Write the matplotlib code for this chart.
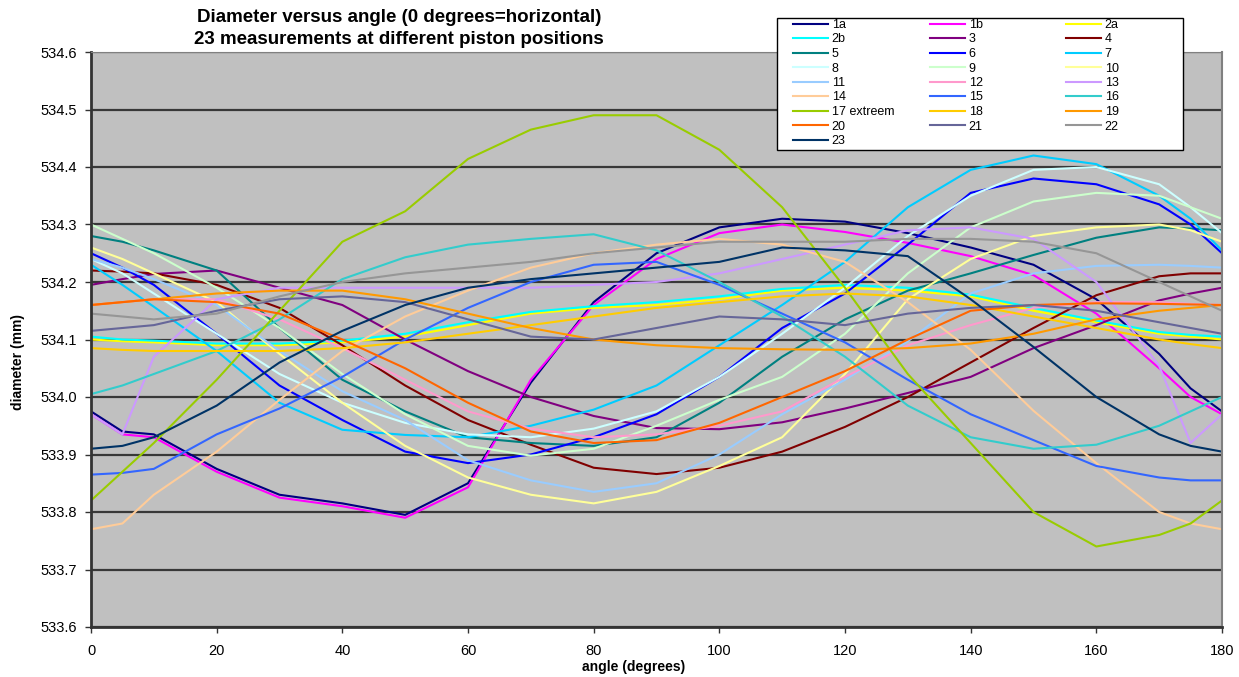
import matplotlib
matplotlib.use("Agg")
import matplotlib.pyplot as plt
from matplotlib.patches import Rectangle

plt.rcParams['font.family'] = ['Liberation Sans', 'DejaVu Sans']

# angle (degrees) where each measurement series is sampled
angles = [0, 5, 10, 20, 30, 40, 50, 60, 70, 80, 90, 100, 110, 120, 130, 140, 150, 160, 170, 175, 180]

labels = ["1a", "1b", "2a", "2b", "3", "4", "5", "6", "7", "8", "9", "10", "11", "12",
          "13", "14", "15", "16", "17 extreem", "18", "19", "20", "21", "22", "23"]

colors = ["#000080", "#FF00FF", "#FFFF00", "#00FFFF", "#800080", "#800000", "#008080",
          "#0000FF", "#00CCFF", "#CCFFFF", "#CCFFCC", "#FFFF99", "#99CCFF", "#FF99CC",
          "#CC99FF", "#FFCC99", "#3366FF", "#33CCCC", "#99CC00", "#FFCC00", "#FF9900",
          "#FF6600", "#666699", "#969696", "#003366"]

d_1a = [533.975, 533.94, 533.935, 533.875, 533.83, 533.815, 533.795, 533.85, 534.025, 534.165, 534.25,
        534.295, 534.31, 534.305, 534.285, 534.26, 534.23, 534.17, 534.075, 534.015, 533.975]
d_1b = [533.97, 533.935, 533.93, 533.87, 533.825, 533.81, 533.79, 533.843, 534.03, 534.16, 534.24,
        534.285, 534.30, 534.287, 534.268, 534.245, 534.212, 534.145, 534.05, 534.0, 533.97]
d_2a = [534.10, 534.097, 534.095, 534.09, 534.09, 534.095, 534.105, 534.125, 534.145, 534.155, 534.16,
        534.17, 534.185, 534.19, 534.185, 534.175, 534.15, 534.13, 534.11, 534.105, 534.10]
d_2b = [534.105, 534.10, 534.098, 534.093, 534.093, 534.098, 534.11, 534.13, 534.148, 534.158, 534.165,
        534.175, 534.188, 534.195, 534.19, 534.178, 534.155, 534.133, 534.113, 534.108, 534.105]
d_3 = [534.195, 534.205, 534.214, 534.22, 534.19, 534.16, 534.10, 534.045, 534.0, 533.967, 533.946,
       533.944, 533.956, 533.98, 534.007, 534.035, 534.085, 534.125, 534.168, 534.18, 534.19]
d_4 = [534.22, 534.218, 534.215, 534.195, 534.155, 534.09, 534.02, 533.96, 533.917, 533.877, 533.866,
       533.877, 533.905, 533.948, 534.0, 534.06, 534.12, 534.177, 534.21, 534.215, 534.215]
d_5 = [534.28, 534.27, 534.255, 534.22, 534.12, 534.03, 533.975, 533.93, 533.92, 533.915, 533.93,
       533.99, 534.07, 534.135, 534.185, 534.215, 534.247, 534.277, 534.295, 534.293, 534.29]
d_6 = [534.25, 534.225, 534.195, 534.11, 534.02, 533.96, 533.905, 533.885, 533.90, 533.93, 533.97,
       534.035, 534.12, 534.18, 534.265, 534.355, 534.38, 534.37, 534.335, 534.30, 534.25]
d_7 = [534.23, 534.195, 534.157, 534.08, 533.99, 533.943, 533.934, 533.93, 533.95, 533.978, 534.02,
       534.09, 534.16, 534.235, 534.33, 534.395, 534.42, 534.405, 534.35, 534.31, 534.255]
d_8 = [534.24, 534.215, 534.18, 534.11, 534.04, 533.99, 533.955, 533.935, 533.93, 533.945, 533.975,
       534.035, 534.11, 534.19, 534.28, 534.35, 534.395, 534.40, 534.37, 534.33, 534.285]
d_9 = [534.30, 534.275, 534.25, 534.19, 534.12, 534.04, 533.97, 533.915, 533.898, 533.91, 533.95,
       533.995, 534.035, 534.11, 534.215, 534.295, 534.34, 534.355, 534.35, 534.33, 534.31]
d_10 = [534.26, 534.24, 534.215, 534.165, 534.075, 533.99, 533.915, 533.86, 533.83, 533.815, 533.835,
        533.88, 533.93, 534.04, 534.17, 534.24, 534.28, 534.295, 534.30, 534.29, 534.27]
d_11 = [534.24, 534.225, 534.205, 534.16, 534.08, 534.01, 533.96, 533.89, 533.855, 533.835, 533.85,
        533.90, 533.97, 534.03, 534.097, 534.18, 534.215, 534.228, 534.23, 534.228, 534.225]
d_12 = [534.16, 534.165, 534.17, 534.17, 534.135, 534.085, 534.03, 533.975, 533.945, 533.93, 533.935,
        533.95, 533.975, 534.035, 534.09, 534.125, 534.155, 534.165, 534.165, 534.162, 534.16]
d_13 = [533.97, 533.935, 534.07, 534.17, 534.19, 534.19, 534.19, 534.19, 534.19, 534.195, 534.20,
        534.215, 534.24, 534.265, 534.29, 534.295, 534.275, 534.20, 534.054, 533.92, 533.97]
d_14 = [533.77, 533.78, 533.83, 533.905, 533.995, 534.08, 534.14, 534.185, 534.225, 534.25, 534.265,
        534.275, 534.265, 534.235, 534.165, 534.082, 533.976, 533.885, 533.80, 533.78, 533.77]
d_15 = [533.865, 533.868, 533.875, 533.935, 533.98, 534.035, 534.10, 534.155, 534.20, 534.23, 534.235,
        534.195, 534.145, 534.095, 534.03, 533.97, 533.925, 533.88, 533.86, 533.855, 533.855]
d_16 = [534.005, 534.02, 534.04, 534.08, 534.135, 534.205, 534.243, 534.265, 534.275, 534.283, 534.255,
        534.20, 534.14, 534.07, 533.985, 533.93, 533.91, 533.917, 533.95, 533.975, 534.0]
d_17 = [533.82, 533.87, 533.92, 534.03, 534.15, 534.27, 534.323, 534.414, 534.465, 534.49, 534.49,
        534.43, 534.33, 534.19, 534.04, 533.92, 533.80, 533.74, 533.76, 533.78, 533.82]
d_18 = [534.085, 534.082, 534.08, 534.08, 534.08, 534.085, 534.095, 534.11, 534.125, 534.14, 534.155,
        534.165, 534.175, 534.18, 534.175, 534.16, 534.14, 534.12, 534.10, 534.092, 534.085]
d_19 = [534.16, 534.165, 534.17, 534.18, 534.185, 534.185, 534.17, 534.145, 534.12, 534.10, 534.09,
        534.085, 534.083, 534.082, 534.085, 534.093, 534.11, 534.135, 534.15, 534.155, 534.16]
d_20 = [534.16, 534.165, 534.17, 534.165, 534.145, 534.10, 534.05, 533.99, 533.94, 533.92, 533.925,
        533.955, 534.0, 534.045, 534.10, 534.15, 534.16, 534.163, 534.162, 534.161, 534.16]
d_21 = [534.115, 534.12, 534.125, 534.15, 534.17, 534.175, 534.165, 534.135, 534.105, 534.10, 534.12,
        534.14, 534.135, 534.125, 534.145, 534.155, 534.16, 534.15, 534.13, 534.12, 534.11]
d_22 = [534.145, 534.14, 534.135, 534.145, 534.175, 534.20, 534.215, 534.225, 534.235, 534.25, 534.26,
        534.27, 534.27, 534.27, 534.275, 534.275, 534.27, 534.25, 534.20, 534.175, 534.15]
d_23 = [533.91, 533.915, 533.93, 533.985, 534.06, 534.115, 534.16, 534.19, 534.205, 534.215, 534.225,
        534.235, 534.26, 534.255, 534.245, 534.17, 534.087, 534.0, 533.935, 533.915, 533.905]

series = [d_1a, d_1b, d_2a, d_2b, d_3, d_4, d_5, d_6, d_7, d_8, d_9, d_10, d_11, d_12,
          d_13, d_14, d_15, d_16, d_17, d_18, d_19, d_20, d_21, d_22, d_23]

W, H = 1239, 677
fig = plt.figure(figsize=(W / 100, H / 100), dpi=100)
ax = fig.add_axes([91 / W, 50 / H, 1131 / W, 575 / H])
ax.set_facecolor("#C0C0C0")

handles = []
for vals, lab, col in zip(series, labels, colors):
    ln, = ax.plot(angles, vals, color=col, lw=1.5, label=lab)
    handles.append(ln)

ax.set_xlim(0, 180)
ax.set_ylim(533.6, 534.6)
ax.set_xticks(range(0, 181, 20))
yt = [533.6 + 0.1 * i for i in range(11)]
ax.set_yticks(yt)
ax.set_yticklabels([f"{v:.1f}" for v in yt])
ax.tick_params(axis="both", labelsize=10.5, length=4, width=1, color="#333333", direction="out")
ax.tick_params(axis="y", pad=6)
ax.tick_params(axis="x", pad=8)

ax.set_axisbelow(True)
ax.yaxis.grid(True, color="#383838", lw=1.6)
for side in ("left", "bottom"):
    ax.spines[side].set_color("#333333")
    ax.spines[side].set_linewidth(2)
ax.spines["top"].set_color("#808080")
ax.spines["right"].set_color("#808080")
ax.spines["right"].set_linewidth(1.5)

ax.set_xlabel("angle (degrees)", fontsize=10, fontweight="bold")
ax.xaxis.set_label_coords(0.48, -0.058)
ax.set_ylabel("diameter (mm)", fontsize=10, fontweight="bold")
ax.yaxis.set_label_coords(-0.058, 0.46)

fig.text(399 / W, 1 - 18 / H, "Diameter versus angle (0 degrees=horizontal)",
         ha="center", va="center", fontsize=13.5, fontweight="bold")
fig.text(399 / W, 1 - 40 / H, "23 measurements at different piston positions",
         ha="center", va="center", fontsize=13.5, fontweight="bold")

# legend box, three columns filled row by row
fig.patches.append(Rectangle((777 / W, 1 - 150 / H), 406 / W, 132 / H, transform=fig.transFigure,
                             facecolor="white", edgecolor="black", lw=1, zorder=5))
col_x = [793, 930, 1066]
for c in range(3):
    leg = fig.legend(handles=handles[c::3], loc="upper left",
                     bbox_to_anchor=(col_x[c] / W, 1 - 19 / H), frameon=False,
                     fontsize=9, handlelength=2.8, handletextpad=0.3,
                     labelspacing=0.2, borderpad=0, borderaxespad=0)
    leg.set_zorder(6)

fig.savefig("out.png", dpi=100)
